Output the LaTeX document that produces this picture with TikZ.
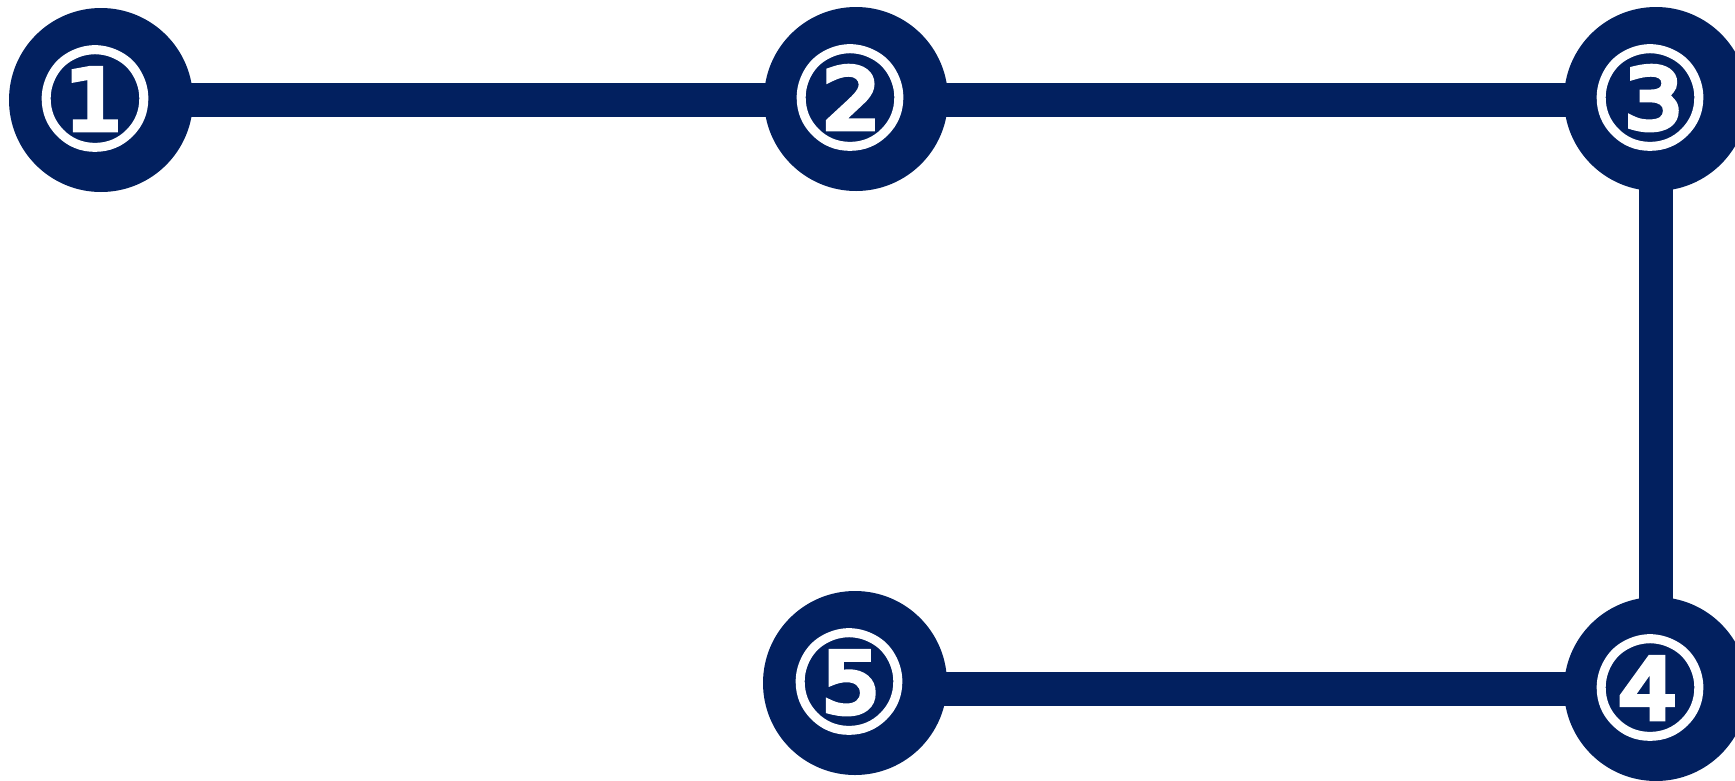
\documentclass[tikz,border=0pt]{standalone}
\usepackage{fontspec}
\usetikzlibrary{backgrounds}
\newfontfamily\dejadigit{DejaVu Sans}[FakeBold=2.5]
\definecolor{navy}{HTML}{02205F}
\begin{document}
\begin{tikzpicture}[x=1pt,y=-1pt,
  stopnode/.style={circle,fill=navy,minimum size=184pt,inner sep=0pt},
  digit/.style={text=white,inner sep=0pt,font=\dejadigit\fontsize{138}{138}\selectfont,xshift=-6pt,yshift=1.5pt},
  link/.style={draw=navy,line width=34pt}]
\useasboundingbox (0,0) rectangle (1735,780);
\clip (0,0) rectangle (1735,780);
\node[stopnode,label={[digit]center:①}] (n1) at (101,100) {};
\node[stopnode,label={[digit]center:②}] (n2) at (856,99) {};
\node[stopnode,label={[digit]center:③}] (n3) at (1656,99) {};
\node[stopnode,label={[digit]center:④}] (n4) at (1656,689) {};
\node[stopnode,label={[digit]center:⑤}] (n5) at (855,683) {};
\begin{pgfonlayer}{background}
\draw[link] (n1.center) -- (n1.center -| n3.center);
\draw[link] (n3.center) -- (n4.center);
\draw[link] (n4.center) -- (n4.center -| n5.center);
\end{pgfonlayer}
\end{tikzpicture}
\end{document}
